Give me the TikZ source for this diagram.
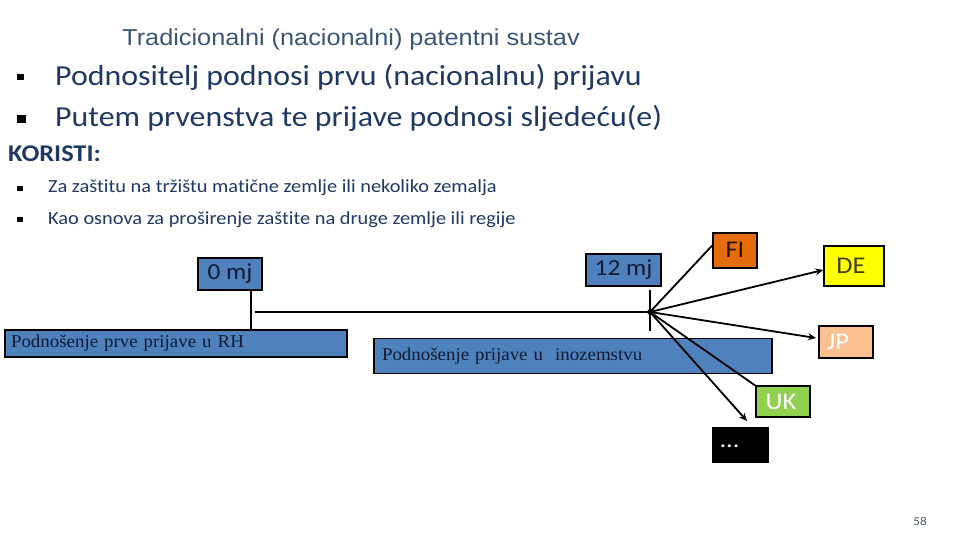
\documentclass[tikz,border=0pt]{standalone}
\usepackage{fontspec}
\setmainfont{Carlito}[FakeStretch=1.1,Ligatures=NoCommon]
\newfontfamily\serifnt{Liberation Serif}[FakeStretch=1.05]
\newfontfamily\titlefnt{Liberation Sans}[FakeStretch=1.1]
\usetikzlibrary{arrows.meta,calc}
\definecolor{navy}{HTML}{1F3864}
\definecolor{titlecol}{HTML}{3A5575}
\definecolor{boxblue}{HTML}{4F81BD}
\definecolor{fiorange}{HTML}{E46C0A}
\definecolor{deyellow}{HTML}{FFFF00}
\definecolor{jppeach}{HTML}{FAC090}
\definecolor{ukgreen}{HTML}{92D050}
\definecolor{darktxt}{HTML}{0E1A33}
\definecolor{detxt}{HTML}{404010}
\definecolor{fitxt}{HTML}{2A1000}
\definecolor{pagecol}{HTML}{4A5A6A}
\tikzset{
  cbox/.style={draw=black,line width=1.6pt,inner sep=0pt},
  conn/.style={line width=1.8pt,draw=black},
  arr/.style={conn,-{Stealth[length=8pt,width=7pt]}},
  bul/.style={fill=black,inner sep=0pt,draw=none},
  txt/.style={inner sep=0pt,anchor=base west,text=navy},
  ctry/.style={cbox,font=\fontsize{24}{28}\selectfont}
}
\begin{document}
\begin{tikzpicture}[x=1pt,y=-1pt]
\useasboundingbox (0,0) rectangle (960,540);
% title
\node[inner sep=0pt,anchor=base,text=titlecol,font=\titlefnt\fontsize{23}{27}\selectfont] (title) at (351,46) {Tradicionalni (nacionalni) patentni sustav};
% main bullets
\node[bul,minimum width=7pt,minimum height=6pt] (b1) at (20.5,77.5) {};
\node[txt,font=\fontsize{29}{33}\selectfont] (t1) at (55,86) {Podnositelj podnosi prvu (nacionalnu) prijavu};
\node[bul,minimum width=9pt,minimum height=8pt] (b2) at (21.5,119) {};
\node[txt,font=\fontsize{29}{33}\selectfont] (t2) at (55,127) {Putem prvenstva te prijave podnosi sljedeću(e)};
\node[txt,font=\bfseries\fontsize{24}{28}\selectfont] (kor) at (8,161) {KORISTI:};
\node[bul,minimum width=6pt,minimum height=5pt] (b3) at (20,188) {};
\node[txt,font=\fontsize{18.5}{22}\selectfont] (t3) at (48,193) {Za zaštitu na tržištu matične zemlje ili nekoliko zemalja};
\node[bul,minimum width=6pt,minimum height=5pt] (b4) at (20,219) {};
\node[txt,font=\fontsize{18.5}{22}\selectfont] (t4) at (48,224) {Kao osnova za proširenje zaštite na druge zemlje ili regije};
% timeline boxes
\node[cbox,fill=boxblue,minimum width=64pt,minimum height=32pt,text=darktxt,font=\fontsize{23}{27}\selectfont] (m0) at (230,274) {0 mj};
\node[cbox,fill=boxblue,minimum width=75pt,minimum height=32pt,text=darktxt,font=\fontsize{23}{27}\selectfont] (m12) at (623.5,270) {12 mj};
\node[cbox,fill=boxblue,minimum width=342pt,minimum height=27pt,text width=330pt,align=left,text=darktxt,font=\serifnt\fontsize{18}{21}\selectfont] (rh) at (176,343.5) {Podnošenje prve prijave u RH};
\node[cbox,fill=boxblue,minimum width=398pt,minimum height=35pt,text width=382pt,align=left,text=darktxt,font=\serifnt\fontsize{18}{21}\selectfont] (ino) at (573,356) {\raisebox{-4pt}{Podnošenje prijave u\ \ inozemstvu}};
% countries
\node[ctry,fill=fiorange,minimum width=44pt,minimum height=35pt,text=fitxt] (FI) at (735,250.5) {\raisebox{2pt}{FI}};
\node[ctry,fill=deyellow,minimum width=60pt,minimum height=40pt,text=detxt] (DE) at (854,266) {\hspace*{-6pt}DE};
\node[ctry,fill=jppeach,minimum width=54pt,minimum height=32pt,text=white] (JP) at (846,342) {\hspace*{-16pt}JP};
\node[ctry,fill=ukgreen,minimum width=54pt,minimum height=31pt,text=white] (UK) at (783,401.5) {\hspace*{-4pt}UK};
\node[ctry,fill=black,minimum width=55pt,minimum height=34pt,text=white] (dots) at (740.5,445) {\hspace*{-22pt}\raisebox{-5pt}{...}};
% connectors
\coordinate (hub) at (650,312);
\coordinate (hstart) at (255,312);
\coordinate (t0a) at (251,290);
\coordinate (t0b) at (251,330);
\coordinate (t12a) at (650,290);
\coordinate (t12b) at (650,331);
\coordinate (jpend) at (816,338);
\coordinate (dotsend) at (747,421);
\draw[conn] (hstart) -- (hub);
\draw[conn] (t0a) -- (t0b);
\draw[conn] (t12a) -- (t12b);
\draw[conn] (hub) -- ($(FI.west)+(0,-5)$);
\draw[arr] (hub) -- ($(DE.west)+(0,4)$);
\draw[arr] (hub) -- (jpend);
\draw[conn] (hub) -- ($(UK.north west)+(1,1)$);
\draw[arr] (hub) -- (dotsend);
\fill (hub) circle (2.8pt);
% page number
\node[inner sep=0pt,anchor=base,text=pagecol,font=\fontsize{12}{14}\selectfont] (pg) at (920,525) {58};
\end{tikzpicture}
\end{document}
